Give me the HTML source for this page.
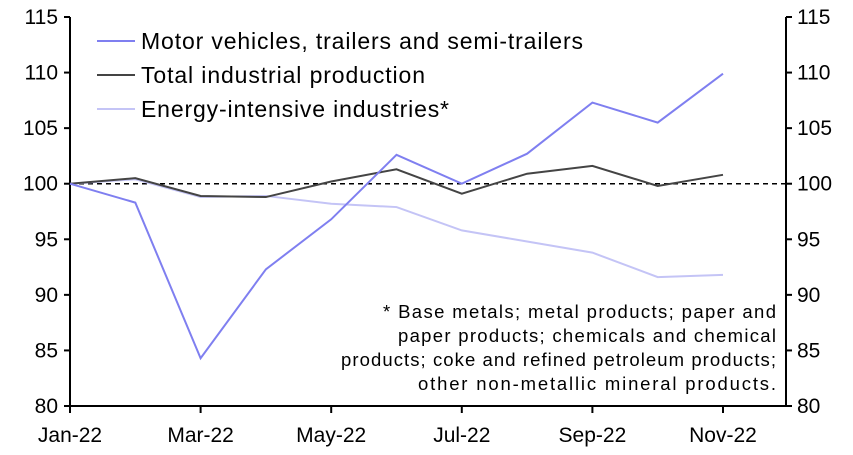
<!DOCTYPE html>
<html><head><style>
body{margin:0;background:#fff;}
svg text{font-family:"Liberation Sans",Arial,sans-serif;fill:#000;}
</style></head><body>
<svg id="c" width="853" height="450"></svg>
<script>
const months=["Jan-22","Feb-22","Mar-22","Apr-22","May-22","Jun-22","Jul-22","Aug-22","Sep-22","Oct-22","Nov-22"];
const motor=[100,98.3,84.3,92.3,96.8,102.6,100,102.7,107.3,105.5,109.9];
const total=[100,100.5,98.9,98.8,100.2,101.3,99.1,100.9,101.6,99.8,100.8];
const energy=[100,100.4,98.8,98.9,98.2,97.9,95.8,94.8,93.8,91.6,91.8];
const yTicks=[80,85,90,95,100,105,110,115];
const xLabels=["Jan-22","Mar-22","May-22","Jul-22","Sep-22","Nov-22"];
const NS="http://www.w3.org/2000/svg";
const svg=document.getElementById('c');
const x0=70,x1=786,yTop=17,yBot=406,mStep=65.3;
const X=i=>x0+i*mStep;
const Y=v=>yBot-(v-80)/35*(yBot-yTop);
function el(t,a,p){const e=document.createElementNS(NS,t);for(const k in a)e.setAttribute(k,a[k]);(p||svg).appendChild(e);return e;}
let a=el('line',{x1:x0,y1:yTop,x2:x0,y2:yBot,stroke:'#000','stroke-width':2});


a=el('line',{x1:x1,y1:yTop,x2:x1,y2:yBot,stroke:'#000','stroke-width':2});


a=el('line',{x1:x0-6,y1:yBot,x2:x1+6,y2:yBot,stroke:'#000','stroke-width':2});


yTicks.forEach(v=>{
  const y=Y(v);
  el('line',{x1:x0-6,y1:y,x2:x0,y2:y,stroke:'#000','stroke-width':2});
  el('line',{x1:x1,y1:y,x2:x1+6,y2:y,stroke:'#000','stroke-width':2});
  let t=el('text',{x:x0-12,y:y+7,'text-anchor':'end','font-size':21});t.textContent=v;
  
  
  t=el('text',{x:x1+11,y:y+7,'text-anchor':'start','font-size':21});t.textContent=v;
  
  
});
xLabels.forEach(l=>{
  const x=X(months.indexOf(l));
  el('line',{x1:x,y1:yBot,x2:x,y2:yBot+7,stroke:'#000','stroke-width':2});
  const t=el('text',{x:x,y:yBot+36,'text-anchor':'middle','font-size':21});t.textContent=l;
  
  
});
a=el('line',{x1:x0,y1:Y(100),x2:x1,y2:Y(100),stroke:'#000','stroke-width':1.5,'stroke-dasharray':'5,4'});


function series(d,c,n){
  const p=el('polyline',{points:d.map((v,i)=>X(i)+','+Y(v)).join(' '),fill:'none',stroke:c,'stroke-width':2});
  
  
}
series(energy,'#c4c4f6','energy-intensive-line');
series(total,'#444','total-industrial-line');
series(motor,'#7f7ff0','motor-vehicles-line');
const leg=[["Motor vehicles, trailers and semi-trailers",'#7f7ff0',442],["Total industrial production",'#444',284],["Energy-intensive industries*",'#c4c4f6',308]];
leg.forEach((l,i)=>{
  const y=41+i*34;
  const g=el('g',{});
  
  
  el('line',{x1:97,y1:y,x2:135,y2:y,stroke:l[1],'stroke-width':2},g);
  const t=el('text',{x:141,y:y+8,'font-size':23,textLength:l[2],lengthAdjust:'spacing'},g);t.textContent=l[0];
});
const note=[["* Base metals; metal products; paper and",393],["paper products; chemicals and chemical",378],["products; coke and refined petroleum products;",435],["other non-metallic mineral products.",358]];
note.forEach((s,i)=>{
  const t=el('text',{x:776-s[1],y:318+i*24,'font-size':18.5,textLength:s[1],lengthAdjust:'spacing'});t.textContent=s[0];
  
  
});
</script>
</body></html>
